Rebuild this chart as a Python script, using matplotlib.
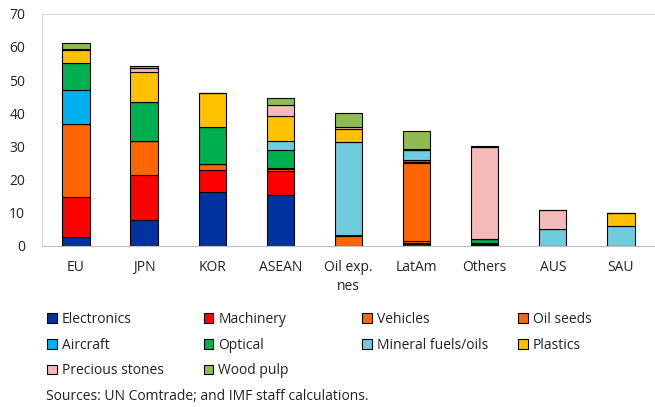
import numpy as np
import matplotlib.pyplot as plt

plt.rcParams['font.family'] = ['Open Sans', 'DejaVu Sans']

#######data
regions = ['EU', 'JPN', 'KOR', 'ASEAN', 'Oil exp.\nnes', 'LatAm', 'Others', 'AUS', 'SAU']
products = ['Electronics', 'Machinery', 'Vehicles', 'Oil seeds', 'Aircraft',
            'Optical', 'Mineral fuels/oils', 'Plastics', 'Precious stones', 'Wood pulp']
colors = ['#0033A0', '#FF0000', '#FF6600', '#FF6600', '#00B0F0',
          '#00B050', '#70CCDC', '#FFC000', '#F4B9B9', '#8FBC50']

electronics = [2.8, 7.8, 16.2, 15.4, 0.0, 0.6, 0.2, 0.0, 0.0]
machinery   = [11.9, 13.6, 6.6, 7.2, 0.0, 0.2, 0.5, 0.0, 0.0]
vehicles    = [22.0, 10.2, 1.8, 0.6, 0.0, 0.6, 0.3, 0.0, 0.0]
oil_seeds   = [0.0, 0.0, 0.0, 0.4, 2.9, 23.6, 0.0, 0.0, 0.0]
aircraft    = [10.3, 0.0, 0.0, 0.0, 0.5, 0.2, 0.0, 0.0, 0.0]
optical     = [8.1, 11.7, 11.3, 5.2, 0.0, 0.8, 1.0, 0.0, 0.0]
mineral     = [0.1, 0.0, 0.0, 2.8, 27.9, 2.9, 0.0, 5.0, 6.1]
plastics    = [3.8, 9.1, 10.2, 7.5, 3.9, 0.0, 0.0, 0.0, 3.7]
precious    = [0.5, 1.2, 0.0, 3.4, 0.8, 0.2, 27.9, 5.9, 0.0]
wood_pulp   = [1.6, 0.8, 0.0, 2.0, 4.0, 5.5, 0.2, 0.0, 0.0]
series = [electronics, machinery, vehicles, oil_seeds, aircraft,
          optical, mineral, plastics, precious, wood_pulp]

########plot
fig = plt.figure(figsize=(6.55, 4.07), dpi=100)
ax = fig.add_axes([0.064, 0.396, 0.936, 0.570])

x = np.arange(len(regions))
bottom = np.zeros(len(regions))
handles = []
for vals, c, name in zip(series, colors, products):
    vals = np.array(vals)
    b = ax.bar(x, vals, 0.4, bottom=bottom, color=c, edgecolor='black',
               linewidth=0.8, label=name)
    handles.append(b)
    bottom += vals

ax.set_xlim(-0.5, 8.5)
ax.set_ylim(0, 70)
ax.set_yticks(np.arange(0, 71, 10))
ax.set_xticks(x)
ax.set_xticklabels(regions, linespacing=1.35)
ax.tick_params(axis='both', length=0, labelsize=10, colors='#222222')
ax.tick_params(axis='x', pad=10)
ax.tick_params(axis='y', pad=12)
for s in ['top', 'left', 'right']:
    ax.spines[s].set_color('#D9D9D9')
ax.spines['right'].set_visible(False)
ax.spines['bottom'].set_color('#BFBFBF')

#legend: one per column, equal column widths
col_x = [0.0718, 0.311, 0.553, 0.791]
for c in range(4):
    idx = list(range(c, len(products), 4))
    leg = fig.legend([handles[i] for i in idx], [products[i] for i in idx],
                     loc='upper left', bbox_to_anchor=(col_x[c], 0.233),
                     frameon=False, fontsize=10, handlelength=0.7,
                     handleheight=0.7, handletextpad=0.35, labelspacing=0.76,
                     borderaxespad=0, borderpad=0)
    for t in leg.get_texts():
        t.set_color('#222222')

fig.text(0.070, 0.0246, 'Sources: UN Comtrade; and IMF staff calculations.',
         fontsize=10, color='#222222', va='center')

plt.savefig('out.png', dpi=100)
